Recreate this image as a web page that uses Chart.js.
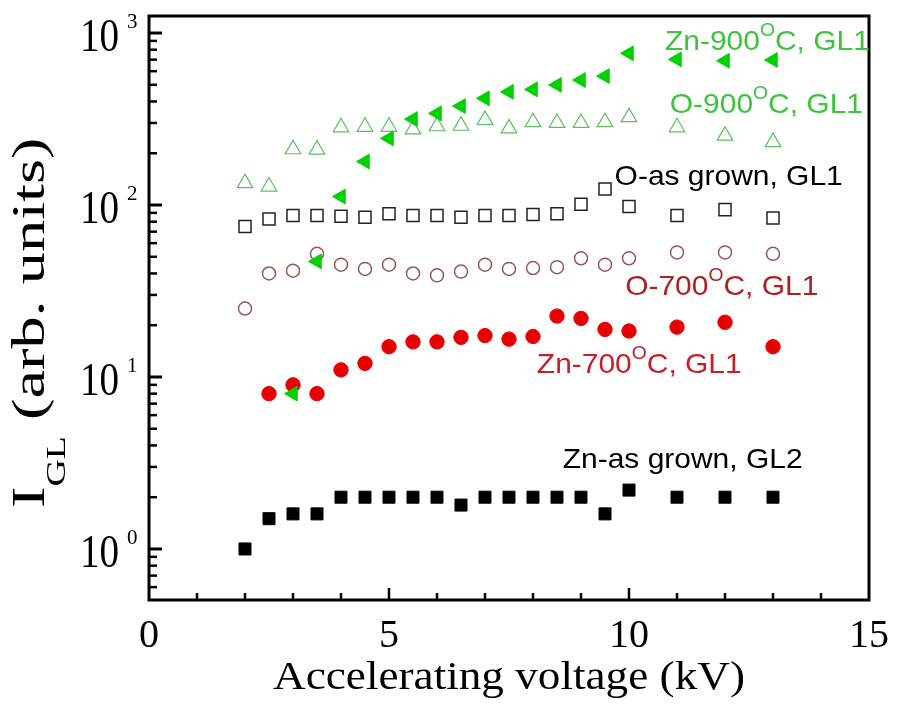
<!DOCTYPE html>
<html><head><meta charset="utf-8">
<script src="https://cdn.jsdelivr.net/npm/chart.js@4.4.1/dist/chart.umd.min.js"></script>
<style>html,body{margin:0;padding:0;background:#fff}#wrap{width:901px;height:713px;position:relative}
.pre1{font-family:"Liberation Serif";position:absolute;left:-999px}.pre2{font-family:"Liberation Sans";position:absolute;left:-999px}</style>
</head><body><span class="pre1">10</span><span class="pre2">Zn</span><div id="wrap"><canvas id="c"></canvas></div>
<script>
// ---------- data ----------
const voltage = [2,2.5,3,3.5,4,4.5,5,5.5,6,6.5,7,7.5,8,8.5,9,9.5,10,11,12,13];
const zn700Voltage = [2.5,3,3.5,4,4.5,5,5.5,6,6.5,7,7.5,8,8.5,9,9.5,10,11,12,13];
const zn900Voltage = [3,3.5,4,4.5,5,5.5,6,6.5,7,7.5,8,8.5,9,9.5,10,11,12,13];

const znAsGrownGL2 = [1.0,1.5,1.6,1.6,2.0,2.0,2.0,2.0,2.0,1.8,2.0,2.0,2.0,2.0,2.0,1.6,2.2,2.0,2.0,2.0];
const o700GL1      = [25,40,41.5,52,45,42.5,45,40,39,41,45,42.5,43,43.5,49,45,49,53,53,52];
const oAsGrownGL1  = [75,83,87,87,86,85,89,87,87,85,87,87,88,89,101,124,98,87,94,84];
const o900GL1      = [134,128,211,210,283,285,285,275,287,289,312,279,303,300,300,303,324,283,253,232];
const zn700GL1     = [8,9,8,11,12,15,16,16,17,17.4,16.6,17.2,22.6,21.9,18.9,18.5,19.5,20.8,15];
const zn900GL1     = [8,47,112,179,244,316,341,376,417,455,470,499,533,562,762,703,690,697];

const xTickValues = [0,5,10,15];
const yTickValues = [1,10,100,1000];
const yTickExponents = ['0','1','2','3'];
const seriesNames = ['Zn-900°C, GL1','O-900°C, GL1','O-as grown, GL1','O-700°C, GL1','Zn-700°C, GL1','Zn-as grown, GL2'];
const xTitle = 'Accelerating voltage (kV)';

const SERIF = '"Liberation Serif", "Times New Roman", Times, serif';
const SANS = '"Liberation Sans", Arial, Helvetica, sans-serif';

// ---------- helpers ----------
const pts = (xs, ys) => xs.map((v,i)=>({x:v, y:ys[i]}));

function drawRich(ctx, parts, o){
  let cx=0;
  for(const p of parts){
    const f = p.sup ? o.supSize : (p.sub ? o.subSize : o.size);
    const dy = p.sup ? -o.supRise : (p.sub ? o.subDrop : 0);
    ctx.font = f+'px '+o.family;
    ctx.fillText(p.t, cx, dy);
    cx += ctx.measureText(p.t).width;
  }
}

// annotations (text, colour, anchor in data coords: left/baseline)
const annotations = [
  {parts:[{t:'Zn-900'},{t:'O',sup:true},{t:'C, GL1'}], color:'#3cc43c', x:10.75, y:796},
  {parts:[{t:'O-900'},{t:'O',sup:true},{t:'C, GL1'}], color:'#3cc43c', x:10.85, y:343},
  {parts:[{t:'O-as grown, GL1'}], color:'#000000', x:9.70, y:131},
  {parts:[{t:'O-700'},{t:'O',sup:true},{t:'C, GL1'}], color:'#b01e1e', x:9.92, y:30},
  {parts:[{t:'Zn-700'},{t:'O',sup:true},{t:'C, GL1'}], color:'#c81e28', x:8.08, y:10.55},
  {parts:[{t:'Zn-as grown, GL2'}], color:'#000000', x:8.62, y:2.96}
];

const decor = {
  id:'decor',
  afterDraw(chart){
    const {ctx, chartArea:a, scales:{x, y}} = chart;
    ctx.save();
    ctx.strokeStyle = '#000';
    ctx.lineCap = 'butt';
    ctx.lineWidth = 3;
    ctx.strokeRect(a.left, a.top, a.right-a.left, a.bottom-a.top);
    for(let e=-1;e<=3;e++){
      for(let m=1;m<=9;m++){
        const v = m*Math.pow(10,e);
        if(v < y.min || v > y.max) continue;
        const py = y.getPixelForValue(v);
        ctx.lineWidth = m===1 ? 3 : 2.5;
        const L = m===1 ? 13 : 8;
        ctx.beginPath(); ctx.moveTo(a.left, py); ctx.lineTo(a.left+L, py); ctx.stroke();
      }
    }
    for(let v=1; v<15; v++){
      const px = x.getPixelForValue(v);
      ctx.lineWidth = 2.5;
      const L = v%5===0 ? 12 : 7;
      ctx.beginPath(); ctx.moveTo(px, a.bottom); ctx.lineTo(px, a.bottom-L); ctx.stroke();
    }
    ctx.fillStyle = '#000';
    ctx.textBaseline = 'alphabetic';
    yTickValues.forEach((v,i)=>{
      const py = y.getPixelForValue(v);
      ctx.save();
      ctx.font = '46px '+SERIF;
      const w = ctx.measureText('10').width*0.85;
      ctx.translate(119 - w, py + 18);
      ctx.scale(0.85,1);
      ctx.fillText('10', 0, 0);
      ctx.restore();
      ctx.font = '21px '+SERIF;
      ctx.fillText(yTickExponents[i], 127, py - 5);
    });
    ctx.save();
    const xs = 1.13;
    ctx.font = '40px '+SERIF;
    const tw = ctx.measureText(xTitle).width*xs;
    ctx.translate((a.left+a.right)/2 - tw/2, a.bottom + 89);
    ctx.scale(xs,1);
    ctx.fillText(xTitle, 0, 0);
    ctx.restore();
    ctx.save();
    const yo = {family:SERIF, size:46, subSize:27, subDrop:21};
    ctx.translate(44, 508);
    ctx.rotate(-Math.PI/2);
    ctx.scale(1.4,1);
    drawRich(ctx, [{t:'I'},{t:'GL',sub:true},{t:' (arb. units)'}], yo);
    ctx.restore();
    const ao = {family:SANS, size:28, supSize:18, supRise:14};
    annotations.forEach(an=>{
      ctx.save();
      ctx.fillStyle = an.color;
      ctx.translate(x.getPixelForValue(an.x), y.getPixelForValue(an.y));
      ctx.scale(1.07,1);
      drawRich(ctx, an.parts, ao);
      ctx.restore();
    });
    ctx.restore();
  }
};

function build(){
  new Chart(document.getElementById('c'), {
    type:'scatter',
    data:{
      datasets:[
        {label:seriesNames[0], data:pts(zn900Voltage, zn900GL1), pointStyle:'triangle', rotation:-90, pointRadius:8.5,
         backgroundColor:'#00d200', borderColor:'#00d200', borderWidth:1},
        {label:seriesNames[1], data:pts(voltage, o900GL1), pointStyle:'triangle', pointRadius:9,
         backgroundColor:'rgba(0,0,0,0)', borderColor:'#5cbf5c', borderWidth:1.2},
        {label:seriesNames[2], data:pts(voltage, oAsGrownGL1), pointStyle:'rect', pointRadius:8.5,
         backgroundColor:'rgba(0,0,0,0)', borderColor:'#222222', borderWidth:1.5},
        {label:seriesNames[3], data:pts(voltage, o700GL1), pointStyle:'circle', pointRadius:6.5,
         backgroundColor:'rgba(0,0,0,0)', borderColor:'#9a5555', borderWidth:1.5},
        {label:seriesNames[4], data:pts(zn700Voltage, zn700GL1), pointStyle:'circle', pointRadius:7.2,
         backgroundColor:'#e80000', borderColor:'#e80000', borderWidth:1},
        {label:seriesNames[5], data:pts(voltage, znAsGrownGL2), pointStyle:'rect', pointRadius:8.5,
         backgroundColor:'#000000', borderColor:'#000000', borderWidth:1}
      ]
    },
    options:{
      responsive:true, maintainAspectRatio:false, animation:false,
      layout:{padding:{left:0, right:24, top:16, bottom:0}},
      plugins:{legend:{display:false}, tooltip:{enabled:false}},
      scales:{
        x:{type:'linear', min:0, max:15,
           afterFit(s){ s.height = 113; },
           afterBuildTicks(s){ s.ticks = xTickValues.map(v=>({value:v})); },
           grid:{display:false, drawTicks:false}, border:{display:false},
           ticks:{font:{family:SERIF, size:40}, color:'#000', padding:12, maxRotation:0}},
        y:{type:'logarithmic', min:0.505, max:1256,
           afterFit(s){ s.width = 149; },
           grid:{display:false, drawTicks:false}, border:{display:false},
           ticks:{display:false}}
      }
    },
    plugins:[decor]
  });
}
const loads = [document.fonts.load('40px "Liberation Serif"'), document.fonts.load('28px "Liberation Sans"')];
Promise.all(loads).then(build, build);
</script>
</body></html>
